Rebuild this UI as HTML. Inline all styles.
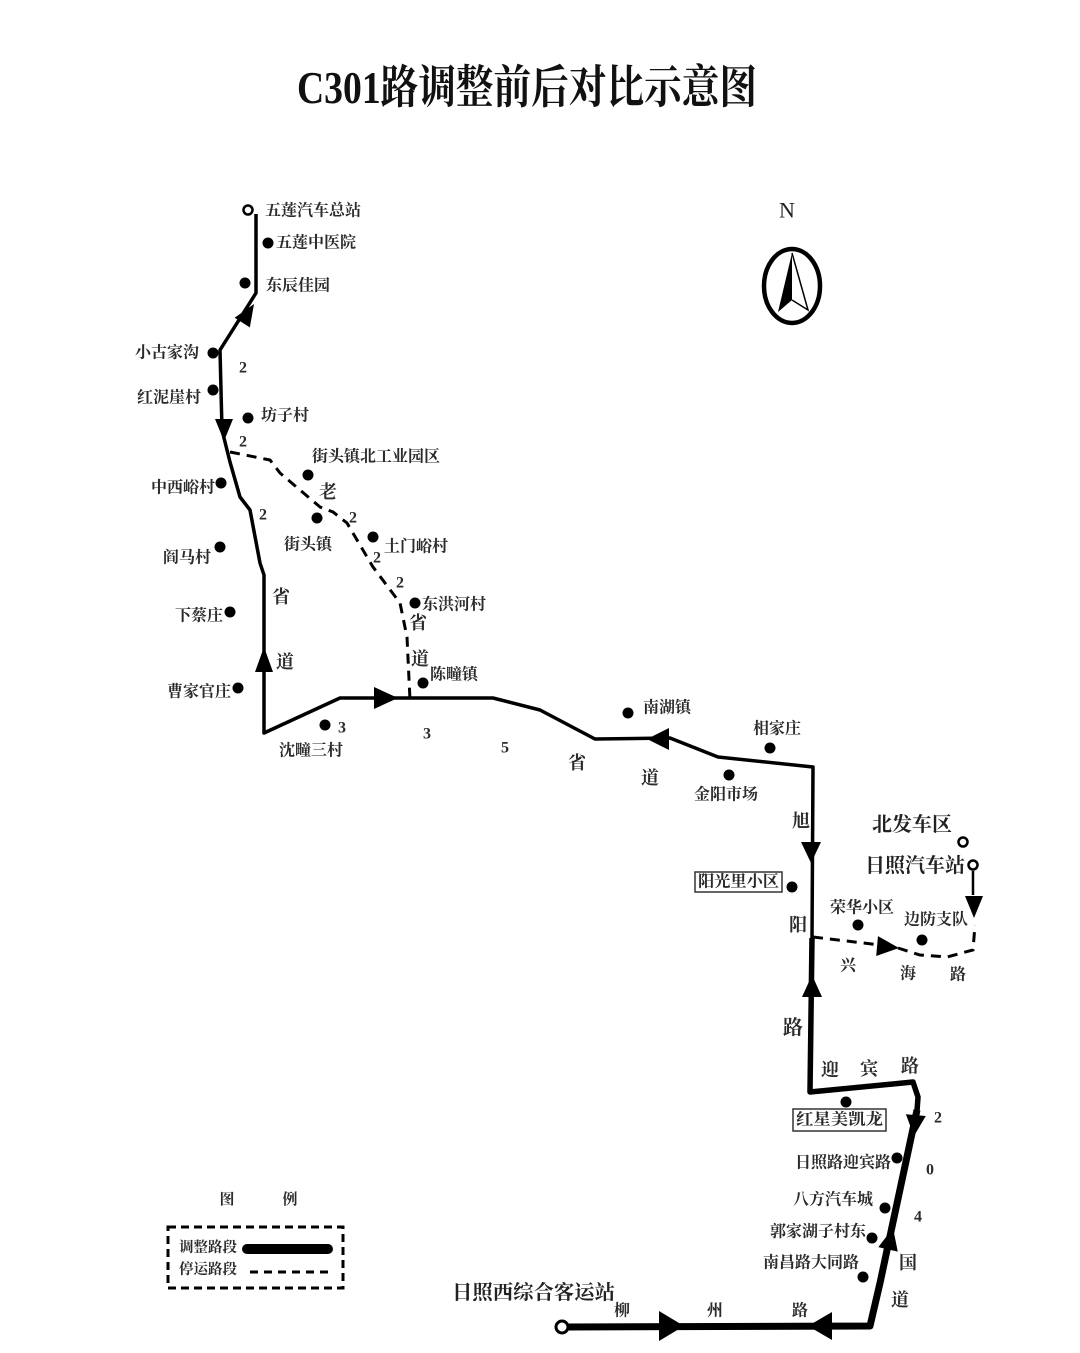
<!DOCTYPE html>
<html><head><meta charset="utf-8"><style>
html,body{margin:0;padding:0;background:#fff;}
svg{display:block;}
.t{font-family:"Liberation Serif","Noto Serif CJK SC",serif;font-weight:bold;fill:#2b2b2b;font-size:16px;dominant-baseline:central;}
.r{font-family:"Liberation Serif","Noto Serif CJK SC",serif;font-weight:bold;fill:#2b2b2b;font-size:18px;dominant-baseline:central;text-anchor:middle;}
.e{text-anchor:end;}
.big{font-size:20px;fill:#222;}
</style></head><body>
<svg width="1080" height="1353" viewBox="0 0 1080 1353" xmlns="http://www.w3.org/2000/svg">
<rect width="1080" height="1353" fill="#fff"/>
<!-- Title -->
<text x="297" y="103" textLength="460" lengthAdjust="spacingAndGlyphs" style="font-family:'Liberation Serif','Noto Serif CJK SC',serif;font-weight:bold;font-size:46px;fill:#111;">C301路调整前后对比示意图</text>

<!-- Compass -->
<text x="787" y="210" style="font-family:'Liberation Serif',serif;font-size:22px;fill:#222;dominant-baseline:central;text-anchor:middle;">N</text>
<ellipse cx="792" cy="286" rx="28" ry="37" fill="none" stroke="#000" stroke-width="4.5"/>
<polygon points="792,253 778,312 792,300" fill="#000"/>
<polyline points="792,253 808,310 792,300" fill="none" stroke="#000" stroke-width="1.5"/>

<!-- Dashed old routes -->
<g fill="none" stroke="#000" stroke-width="3" stroke-dasharray="10,7">
<polyline points="230,452 270,460 280,473 320,507 333,512 347,523 373,567 400,603 407,637 410,700"/>
<polyline points="813,937 880,945"/>
<polyline points="898,948 920,955 947,957 973,950 975,925"/>
</g>
<line x1="973" y1="871" x2="973" y2="895" stroke="#000" stroke-width="2.5"/>
<polygon points="0,0 -22,-10 -22,10" transform="translate(899,948) rotate(5)" fill="#000"/>
<polygon points="0,0 -22,-9 -22,9" transform="translate(974,918) rotate(90)" fill="#000"/>

<!-- Main route -->
<polyline points="256,214 256,293 220,350 222,430 230,462 240,497 250,510 260,563 264,575 264,733 340,698 493,698 540,710 595,739 670,738 718,757 813,767 812,940" fill="none" stroke="#000" stroke-width="3.5" stroke-linejoin="round"/>
<polyline points="812,938 810,1092 913,1082 918,1097 916,1125" fill="none" stroke="#000" stroke-width="5.5" stroke-linejoin="round"/>
<polyline points="917,1110 880,1283 870,1326 568,1327" fill="none" stroke="#000" stroke-width="7" stroke-linejoin="round"/>

<!-- Arrows -->
<g fill="#000">
<polygon points="0,0 -22,-9 -22,9" transform="translate(254,304) rotate(-57.7)"/>
<polygon points="0,0 -22,-9 -22,9" transform="translate(224,441) rotate(90)"/>
<polygon points="0,0 -25,-9 -25,9" transform="translate(264,647) rotate(-90)"/>
<polygon points="0,0 -24,-11 -24,11" transform="translate(398,698)"/>
<polygon points="0,0 -22,-11 -22,11" transform="translate(647,739) rotate(180)"/>
<polygon points="0,0 -21,-10 -21,10" transform="translate(811,863) rotate(90)"/>
<polygon points="0,0 -22,-10 -22,10" transform="translate(812,975) rotate(-90)"/>
<polygon points="0,0 -21,-10 -21,10" transform="translate(914,1136) rotate(95)"/>
<polygon points="0,0 -22,-10 -22,10" transform="translate(893,1228) rotate(-77)"/>
<polygon points="0,0 -25,-15 -25,15" transform="translate(684,1326)"/>
<polygon points="0,0 -24,-14 -24,14" transform="translate(808,1326) rotate(180)"/>
</g>

<!-- Open circles -->
<g fill="#fff" stroke="#000">
<circle cx="248" cy="210" r="4.5" stroke-width="2.5"/>
<circle cx="963" cy="842" r="4.5" stroke-width="2.5"/>
<circle cx="973" cy="865" r="4.5" stroke-width="2.5"/>
<circle cx="562" cy="1327" r="6" stroke-width="3"/>
</g>

<!-- Station dots -->
<g fill="#000">
<circle cx="268" cy="243" r="5.5"/>
<circle cx="245" cy="283" r="5.5"/>
<circle cx="213" cy="353" r="5.5"/>
<circle cx="213" cy="390" r="5.5"/>
<circle cx="248" cy="418" r="5.5"/>
<circle cx="308" cy="475" r="5.5"/>
<circle cx="221" cy="483" r="5.5"/>
<circle cx="317" cy="518" r="5.5"/>
<circle cx="373" cy="537" r="5.5"/>
<circle cx="220" cy="547" r="5.5"/>
<circle cx="415" cy="603" r="5.5"/>
<circle cx="230" cy="612" r="5.5"/>
<circle cx="423" cy="683" r="5.5"/>
<circle cx="238" cy="688" r="5.5"/>
<circle cx="325" cy="725" r="5.5"/>
<circle cx="628" cy="713" r="5.5"/>
<circle cx="770" cy="748" r="5.5"/>
<circle cx="729" cy="775" r="5.5"/>
<circle cx="792" cy="887" r="5.5"/>
<circle cx="858" cy="925" r="5.5"/>
<circle cx="922" cy="940" r="5.5"/>
<circle cx="846" cy="1102" r="5.5"/>
<circle cx="897" cy="1158" r="5.5"/>
<circle cx="885" cy="1208" r="5.5"/>
<circle cx="872" cy="1238" r="5.5"/>
<circle cx="863" cy="1277" r="5.5"/>
</g>

<!-- Station labels -->
<text class="t" x="265" y="211">五莲汽车总站</text>
<text class="t" x="276" y="243">五莲中医院</text>
<text class="t" x="266" y="286">东辰佳园</text>
<text class="t e" x="199" y="353">小古家沟</text>
<text class="t e" x="201" y="398">红泥崖村</text>
<text class="t" x="261" y="416">坊子村</text>
<text class="t" x="312" y="457">街头镇北工业园区</text>
<text class="t e" x="215" y="488">中西峪村</text>
<text class="t" x="284" y="545">街头镇</text>
<text class="t" x="384" y="547">土门峪村</text>
<text class="t e" x="211" y="558">阎马村</text>
<text class="t" x="422" y="605">东洪河村</text>
<text class="t e" x="223" y="616">下蔡庄</text>
<text class="t" x="430" y="675">陈疃镇</text>
<text class="t e" x="231" y="692">曹家官庄</text>
<text class="t" x="279" y="751">沈疃三村</text>
<text class="t" x="643" y="708">南湖镇</text>
<text class="t" x="753" y="729">相家庄</text>
<text class="t" x="694" y="795">金阳市场</text>
<rect x="695" y="872" width="87" height="20" fill="#fff" stroke="#333" stroke-width="1.5"/>
<text class="t" x="698" y="882" textLength="81" lengthAdjust="spacingAndGlyphs">阳光里小区</text>
<text class="t" x="830" y="908">荣华小区</text>
<text class="t" x="904" y="920">边防支队</text>
<text class="t big" x="872" y="825">北发车区</text>
<text class="t big" x="865" y="866">日照汽车站</text>
<rect x="793" y="1109" width="93" height="22" fill="#fff" stroke="#333" stroke-width="1.5"/>
<text class="t" x="796" y="1120" textLength="87" lengthAdjust="spacingAndGlyphs">红星美凯龙</text>
<text class="t" x="795" y="1163">日照路迎宾路</text>
<text class="t" x="793" y="1200">八方汽车城</text>
<text class="t" x="770" y="1232">郭家湖子村东</text>
<text class="t" x="763" y="1263">南昌路大同路</text>
<text class="t big" x="452" y="1293" textLength="163" lengthAdjust="spacingAndGlyphs">日照西综合客运站</text>

<!-- Road labels -->
<text class="r" x="243" y="368" style="font-size:16px">2</text>
<text class="r" x="243" y="442" style="font-size:16px">2</text>
<text class="r" x="263" y="515" style="font-size:16px">2</text>
<text class="r" x="328" y="492">老</text>
<text class="r" x="353" y="518" style="font-size:16px">2</text>
<text class="r" x="377" y="558" style="font-size:16px">2</text>
<text class="r" x="400" y="583" style="font-size:16px">2</text>
<text class="r" x="418" y="623">省</text>
<text class="r" x="420" y="659">道</text>
<text class="r" x="281" y="597">省</text>
<text class="r" x="285" y="662">道</text>
<text class="r" x="342" y="728" style="font-size:16px">3</text>
<text class="r" x="427" y="734" style="font-size:16px">3</text>
<text class="r" x="505" y="748" style="font-size:16px">5</text>
<text class="r" x="577" y="763">省</text>
<text class="r" x="650" y="778">道</text>
<text class="r" x="801" y="821">旭</text>
<text class="r" x="798" y="925">阳</text>
<text class="r" x="848" y="966" style="font-size:16px">兴</text>
<text class="r" x="908" y="974" style="font-size:16px">海</text>
<text class="r" x="958" y="975" style="font-size:16px">路</text>
<text class="r" x="793" y="1028" style="font-size:20px">路</text>
<text class="r" x="830" y="1070">迎</text>
<text class="r" x="869" y="1069">宾</text>
<text class="r" x="910" y="1066">路</text>
<text class="r" x="938" y="1118" style="font-size:16px">2</text>
<text class="r" x="930" y="1170" style="font-size:16px">0</text>
<text class="r" x="918" y="1217" style="font-size:16px">4</text>
<text class="r" x="908" y="1263">国</text>
<text class="r" x="900" y="1300">道</text>
<text class="r" x="622" y="1311" style="font-size:16px">柳</text>
<text class="r" x="715" y="1311" style="font-size:16px">州</text>
<text class="r" x="800" y="1311" style="font-size:16px">路</text>

<!-- Legend -->
<text class="r" x="227" y="1200" style="font-size:15px">图</text>
<text class="r" x="290" y="1200" style="font-size:15px">例</text>
<rect x="168" y="1227" width="175" height="61" fill="none" stroke="#000" stroke-width="3" stroke-dasharray="8,5"/>
<text class="t" x="179" y="1248" style="font-size:14.5px">调整路段</text>
<line x1="247" y1="1249" x2="328" y2="1249" stroke="#000" stroke-width="10" stroke-linecap="round"/>
<text class="t" x="179" y="1270" style="font-size:14.5px">停运路段</text>
<line x1="250" y1="1272" x2="333" y2="1272" stroke="#000" stroke-width="3" stroke-dasharray="8,6"/>

<!-- faint watermark -->
<text x="840" y="1350" style="font-family:'Liberation Sans','Noto Sans CJK SC',sans-serif;font-size:10px;fill:#bbb;">           </text>
</svg>
</body></html>
